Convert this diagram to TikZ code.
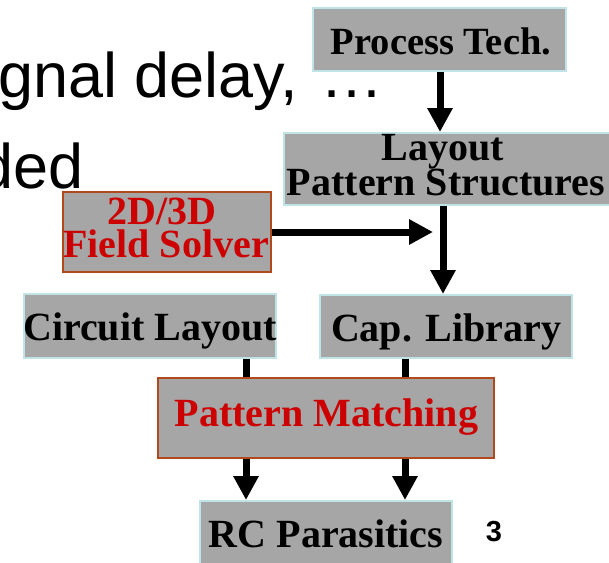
\documentclass[tikz,border=0pt]{standalone}
\usepackage{fontspec}
\setmainfont{Liberation Serif}
\newfontfamily\arialfont{Liberation Sans}
\usetikzlibrary{arrows.meta}

\definecolor{boxgray}{HTML}{A6A6A6}
\definecolor{boxcyan}{HTML}{BFE3E7}
\definecolor{boxbrown}{HTML}{B0491C}
\definecolor{txtred}{HTML}{CC0000}

\tikzset{
  plainbox/.style={rectangle, fill=boxgray, draw=boxcyan, line width=2pt, inner sep=0pt},
  hotbox/.style={rectangle, fill=boxgray, draw=boxbrown, line width=2pt, inner sep=0pt},
  lbl/.style={anchor=base, inner sep=0pt, align=center,
    font=\fontsize{40}{34}\selectfont\bfseries},
  redlbl/.style={lbl, text=txtred},
  flow/.style={line width=7pt, -{Triangle[width=24pt,length=24pt]}},
  feed/.style={line width=7pt},
  slide/.style={inner sep=0pt, font=\arialfont\fontsize{63}{70}\selectfont}
}

\begin{document}
\begin{tikzpicture}[x=1pt, y=-1pt]
\useasboundingbox (0,0) rectangle (609,562);
\clip (0,0) rectangle (609,562);
\fill[white] (0,0) rectangle (609,562);

% slide body text behind the flow chart
\node[slide, anchor=base west] (line1) at (-2,97) {gnal delay, \kern5pt…};
\node[slide, anchor=base east] (line2) at (84,188) {ded};

% boxes
\node[plainbox, minimum width=253pt, minimum height=63pt] (proc) at (439.5,39.5) {};
\node[plainbox, minimum width=326pt, minimum height=72pt] (layout) at (447,169) {};
\node[hotbox, minimum width=208pt, minimum height=80pt] (solver) at (167,232) {};
\node[plainbox, minimum width=252pt, minimum height=64pt] (circ) at (150,326) {};
\node[plainbox, minimum width=252pt, minimum height=63pt] (cap) at (446,326.5) {};
\node[hotbox, minimum width=336pt, minimum height=80pt] (match) at (326,418) {};
\node[plainbox, minimum width=252pt, minimum height=66pt] (rc) at (326,534) {};

% box texts
\node[lbl, font=\fontsize{38.5}{34}\selectfont\bfseries] (tproc) at (441,54) {Process Tech.};
\node[lbl] (tlayout1) at (443,160) {Layout};
\node[lbl] (tlayout2) at (446,195) {Pattern Structures};
\node[redlbl] (tsolver1) at (162,224) {2D/3D};
\node[redlbl] (tsolver2) at (166,257) {Field Solver};
\node[lbl] (tcirc) at (150,340) {Circuit Layout};
\node[lbl] (tcap) at (446,341) {Cap. Library};
\node[redlbl] (tmatch) at (326.5,426) {Pattern Matching};
\node[lbl] (trc) at (326,547) {RC Parasitics};

% page number
\node[inner sep=0pt, anchor=base, font=\arialfont\bfseries\fontsize{29}{30}\selectfont] (pnum) at (494,541) {3};

% connectors
\coordinate (merge) at (433,232);
\draw[flow] ([xshift=0.5pt]proc.south) -- ([xshift=0.5pt]proc.south |- layout.north);
\draw[flow] ([xshift=-4pt]layout.south) -- ([xshift=-4pt]layout.south |- cap.north);
\draw[flow] (solver.east) -- (merge);
\draw[feed] ([xshift=96pt]circ.south) -- ([xshift=96pt]circ.south |- match.north);
\draw[feed] ([xshift=-41pt]cap.south) -- ([xshift=-41pt]cap.south |- match.north);
\draw[flow] ([xshift=-80pt]match.south) -- ([xshift=-80pt]match.south |- rc.north);
\draw[flow] ([xshift=79pt]match.south) -- ([xshift=79pt]match.south |- rc.north);
\end{tikzpicture}
\end{document}
